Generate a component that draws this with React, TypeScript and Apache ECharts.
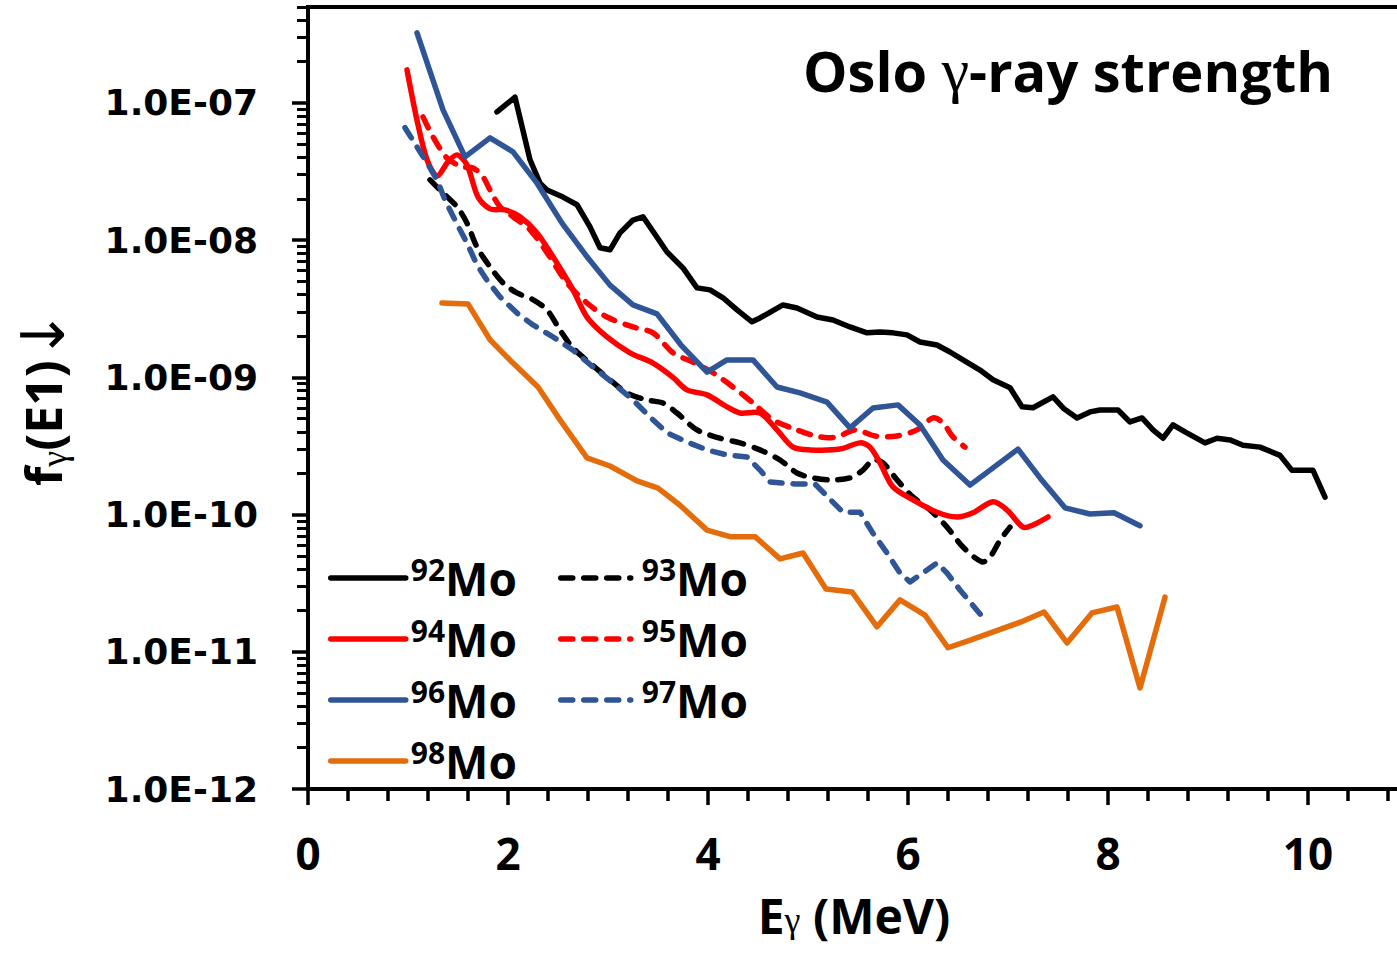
import React, { useEffect, useRef } from "react";
import * as echarts from "echarts";

// ---- data: [E_gamma (MeV), f (MeV^-3)] ----
const mo92: [number, number][] = [
  [1.89, 8.6e-8], [2.07, 1.1e-7], [2.22, 3.85e-8], [2.32, 2.6e-8], [2.39, 2.32e-8], [2.55, 2.06e-8],
  [2.69, 1.81e-8], [2.82, 1.25e-8], [2.92, 8.8e-9], [3.02, 8.5e-9], [3.12, 1.13e-8], [3.25, 1.4e-8],
  [3.35, 1.48e-8], [3.49, 1.05e-8], [3.59, 8.2e-9], [3.75, 6.27e-9], [3.89, 4.49e-9], [4.02, 4.34e-9],
  [4.15, 3.8e-9], [4.29, 3.1e-9], [4.44, 2.54e-9], [4.52, 2.71e-9], [4.75, 3.37e-9], [4.89, 3.2e-9],
  [5.09, 2.75e-9], [5.25, 2.62e-9], [5.42, 2.33e-9], [5.59, 2.11e-9], [5.72, 2.14e-9], [5.85, 2.11e-9],
  [5.99, 2.04e-9], [6.12, 1.81e-9], [6.29, 1.72e-9], [6.42, 1.53e-9], [6.55, 1.34e-9], [6.72, 1.13e-9],
  [6.85, 9.6e-10], [7.02, 8.4e-10], [7.14, 6.1e-10], [7.25, 6.0e-10], [7.45, 7.2e-10], [7.56, 5.9e-10],
  [7.69, 5.06e-10], [7.82, 5.6e-10], [7.92, 5.78e-10], [8.10, 5.78e-10], [8.22, 4.73e-10], [8.34, 5.06e-10],
  [8.45, 4.14e-10], [8.55, 3.6e-10], [8.65, 4.5e-10], [8.77, 4.0e-10], [8.97, 3.33e-10], [9.09, 3.6e-10],
  [9.22, 3.5e-10], [9.35, 3.2e-10], [9.52, 3.1e-10], [9.72, 2.7e-10], [9.84, 2.1e-10], [10.05, 2.1e-10],
  [10.17, 1.34e-10],
];

const mo93: [number, number][] = [
  [1.22, 2.75e-8], [1.32, 2.32e-8], [1.49, 1.75e-8], [1.59, 1.33e-8], [1.69, 8.9e-9], [1.82, 6.4e-9],
  [1.95, 4.88e-9], [2.09, 4.12e-9], [2.24, 3.72e-9], [2.39, 3.1e-9], [2.52, 2.21e-9], [2.64, 1.67e-9],
  [2.82, 1.27e-9], [3.02, 9.6e-10], [3.19, 7.7e-10], [3.39, 6.84e-10], [3.55, 6.5e-10], [3.69, 5.5e-10],
  [3.89, 4.14e-10], [4.12, 3.6e-10], [4.32, 3.33e-10], [4.52, 2.96e-10], [4.72, 2.5e-10], [4.89, 2.01e-10],
  [5.05, 1.85e-10], [5.22, 1.79e-10], [5.42, 1.85e-10], [5.55, 2.11e-10], [5.65, 2.5e-10], [5.75, 2.38e-10],
  [5.89, 1.79e-10], [6.05, 1.34e-10], [6.22, 1.08e-10], [6.39, 8.1e-11], [6.55, 5.8e-11], [6.74, 4.52e-11],
  [6.82, 4.9e-11], [6.92, 6.5e-11], [7.02, 8.1e-11],
];

const mo94: [number, number][] = [
  [0.99, 1.74e-7], [1.09, 7.5e-8], [1.19, 3.85e-8], [1.29, 2.94e-8], [1.40, 3.72e-8], [1.49, 4.18e-8],
  [1.59, 3.53e-8], [1.70, 2.06e-8], [1.82, 1.69e-8], [1.97, 1.66e-8], [2.12, 1.48e-8], [2.29, 1.13e-8],
  [2.49, 6.8e-9], [2.65, 4.34e-9], [2.79, 2.75e-9], [2.99, 1.97e-9], [3.22, 1.51e-9], [3.45, 1.27e-9],
  [3.65, 1.0e-9], [3.79, 8.1e-10], [3.99, 7.45e-10], [4.19, 6.1e-10], [4.32, 5.5e-10], [4.52, 5.5e-10],
  [4.69, 4.14e-10], [4.85, 3.1e-10], [5.02, 2.96e-10], [5.32, 3.0e-10], [5.52, 3.33e-10], [5.62, 3.1e-10],
  [5.72, 2.38e-10], [5.85, 1.59e-10], [6.05, 1.28e-10], [6.29, 1.04e-10], [6.49, 9.6e-11], [6.65, 1.03e-10],
  [6.85, 1.24e-10], [6.99, 1.08e-10], [7.15, 8.1e-11], [7.25, 8.4e-11], [7.40, 9.6e-11],
];

const mo95: [number, number][] = [
  [1.15, 7.9e-8], [1.25, 5.65e-8], [1.39, 3.97e-8], [1.54, 3.42e-8], [1.65, 3.36e-8], [1.75, 2.89e-8],
  [1.82, 2.32e-8], [1.92, 1.75e-8], [2.05, 1.48e-8], [2.22, 1.19e-8], [2.39, 8.1e-9], [2.59, 4.88e-9],
  [2.79, 3.48e-9], [2.99, 2.75e-9], [3.25, 2.33e-9], [3.45, 2.11e-9], [3.65, 1.51e-9], [3.85, 1.29e-9],
  [4.05, 1.08e-9], [4.25, 8.5e-10], [4.45, 6.5e-10], [4.65, 4.9e-10], [4.89, 4.14e-10], [5.12, 3.68e-10],
  [5.29, 3.68e-10], [5.47, 4.14e-10], [5.67, 3.74e-10], [5.89, 3.74e-10], [6.09, 4.14e-10], [6.25, 5.06e-10],
  [6.35, 4.65e-10], [6.45, 3.68e-10], [6.57, 3.1e-10],
];

const mo96: [number, number][] = [
  [1.09, 3.24e-7], [1.35, 8.9e-8], [1.57, 4.04e-8], [1.82, 5.56e-8], [2.05, 4.4e-8], [2.29, 2.6e-8],
  [2.54, 1.33e-8], [2.80, 7.4e-9], [3.02, 4.7e-9], [3.25, 3.37e-9], [3.49, 2.9e-9], [3.73, 1.72e-9],
  [3.99, 1.09e-9], [4.19, 1.34e-9], [4.45, 1.34e-9], [4.69, 8.5e-10], [4.92, 7.7e-10], [5.19, 6.6e-10],
  [5.42, 4.28e-10], [5.65, 5.98e-10], [5.90, 6.3e-10], [6.12, 4.5e-10], [6.35, 2.5e-10], [6.62, 1.64e-10],
  [6.85, 2.19e-10], [7.10, 3.0e-10], [7.32, 1.85e-10], [7.57, 1.12e-10], [7.82, 1.01e-10], [8.06, 1.03e-10],
  [8.32, 8.3e-11],
];

const mo97: [number, number][] = [
  [0.97, 6.6e-8], [1.09, 4.78e-8], [1.19, 3.66e-8], [1.29, 2.75e-8], [1.37, 1.96e-8], [1.47, 1.4e-8],
  [1.59, 9.5e-9], [1.69, 6.6e-9], [1.79, 5.1e-9], [1.92, 3.86e-9], [2.09, 2.94e-9], [2.25, 2.41e-9],
  [2.45, 1.97e-9], [2.65, 1.58e-9], [2.85, 1.19e-9], [3.05, 9.1e-10], [3.25, 6.84e-10], [3.42, 5.14e-10],
  [3.59, 3.94e-10], [3.79, 3.38e-10], [3.99, 2.96e-10], [4.19, 2.72e-10], [4.39, 2.63e-10], [4.52, 2.11e-10],
  [4.62, 1.73e-10], [4.87, 1.67e-10], [5.07, 1.67e-10], [5.35, 1.04e-10], [5.52, 1.04e-10], [5.65, 7.3e-11],
  [5.79, 5.25e-11], [5.92, 3.75e-11], [6.02, 3.23e-11], [6.19, 3.94e-11], [6.29, 4.44e-11], [6.39, 3.75e-11],
  [6.52, 2.82e-11], [6.77, 1.71e-11],
];

const mo98: [number, number][] = [
  [1.34, 3.48e-9], [1.60, 3.43e-9], [1.82, 1.88e-9], [2.05, 1.27e-9], [2.30, 8.5e-10], [2.52, 4.9e-10],
  [2.79, 2.59e-10], [3.02, 2.26e-10], [3.29, 1.76e-10], [3.50, 1.56e-10], [3.72, 1.17e-10], [3.99, 7.7e-11],
  [4.22, 6.9e-11], [4.47, 6.9e-11], [4.72, 4.75e-11], [4.95, 5.25e-11], [5.18, 2.87e-11], [5.44, 2.73e-11],
  [5.69, 1.52e-11], [5.92, 2.39e-11], [6.17, 1.85e-11], [6.40, 1.07e-11], [6.63, 1.22e-11], [7.13, 1.65e-11],
  [7.36, 1.95e-11], [7.59, 1.16e-11], [7.84, 1.92e-11], [8.09, 2.12e-11], [8.32, 5.45e-12], [8.57, 2.5e-11],
];

// ---- axes ----
const X_MIN = 0;
const X_MAX = 10.92;
const Y_MIN = 1e-12;
const Y_MAX = 5e-7;
const xMajorTicks = [0, 2, 4, 6, 8, 10];
const xMinorTicks = [
  0.4, 0.8, 1.2, 1.6, 2.4, 2.8, 3.2, 3.6, 4.4, 4.8, 5.2, 5.6,
  6.4, 6.8, 7.2, 7.6, 8.4, 8.8, 9.2, 9.6, 10.4, 10.8,
];
const yMajorTicks = [1e-12, 1e-11, 1e-10, 1e-9, 1e-8, 1e-7];
const yMinorMantissas = [2, 3, 4, 5, 6, 7, 8, 9];
const yMinorTicks = yMajorTicks
  .flatMap((d) => yMinorMantissas.map((m) => m * d))
  .filter((v) => v <= Y_MAX * 1.0001);

const FONT = "Open Sans";
const GREEK = "Liberation Serif";
const BLACK = "#000000";
const RED = "#ff0000";
const BLUE = "#2f5597";
const ORANGE = "#e46c0a";
const LINE_W = 5.5;
const DASH = [12, 11];

function makeLegendRich(gap: number) {
  return {
    sup: { fontFamily: FONT, fontWeight: "bold", fontSize: 30, lineHeight: 27, verticalAlign: "top", color: "#000", padding: [0, 0, 0, gap] },
    m: { fontFamily: FONT, fontWeight: "bold", fontSize: 46, lineHeight: 48, color: "#000" },
  };
}
const legendFormatter = (name: string) => `{sup|${name.slice(0, 2)}}{m|${name.slice(2)}}`;

// legend carrier: a line series (its legend icon is a line sample)
function legendSeries(name: string, color: string, dashed: boolean) {
  return {
    name,
    type: "line",
    data: [],
    symbol: "none",
    showSymbol: false,
    lineStyle: { color, width: LINE_W, type: dashed ? DASH : "solid", cap: "round" },
    itemStyle: { color },
    silent: true,
  };
}

// curve drawn through the axes' scales with api.coord
function curveSeries(name: string, data: [number, number][], color: string, dashed: boolean, smooth: number) {
  return {
    name,
    type: "custom",
    coordinateSystem: "cartesian2d",
    xAxisIndex: 0,
    yAxisIndex: 0,
    data: [data[0]],
    clip: true,
    silent: true,
    renderItem: (_params: any, api: any) => {
      const points = data.map((d) => api.coord(d));
      return {
        type: "polyline",
        shape: { points, smooth },
        style: {
          stroke: color,
          fill: "none",
          lineWidth: LINE_W,
          lineDash: dashed ? DASH : null,
          lineCap: "round",
          lineJoin: "round",
        },
        silent: true,
      };
    },
  };
}

const legendBase = {
  orient: "vertical",
  top: 549,
  itemHeight: 14,
  itemGap: 14,
  selectedMode: false,
  formatter: legendFormatter,
  itemStyle: { opacity: 0 },
  lineStyle: { width: LINE_W, type: "inherit", cap: "round" },
};

export default function App() {
  const ref = useRef<HTMLDivElement>(null);

  useEffect(() => {
    if (!ref.current) return;
    const chart = echarts.init(ref.current, undefined, { renderer: "svg" });
    const yLabel = (v: number) => {
      const l = Math.log10(v);
      if (Math.abs(l - Math.round(l)) > 0.01) return "";
      const e = Math.round(-l);
      return `1.0E-${String(e).padStart(2, "0")}`;
    };
    const option: any = {
      animation: false,
      backgroundColor: "#ffffff",
      title: {
        text: "{t|Oslo }{g|γ}{t|-ray strength}",
        left: 798,
        top: 33,
        textStyle: {
          rich: {
            t: { fontFamily: FONT, fontWeight: "bold", fontSize: 56, lineHeight: 64, color: "#000" },
            g: { fontFamily: GREEK, fontWeight: "normal", fontSize: 62, lineHeight: 64, color: "#000" },
          },
        },
      },
      legend: [
        {
          ...legendBase,
          data: ["92Mo", "94Mo", "96Mo", "98Mo"],
          left: 323,
          itemWidth: 75,
          textStyle: { rich: makeLegendRich(0) },
        },
        {
          ...legendBase,
          data: ["93Mo", "95Mo", "97Mo"],
          left: 553,
          itemWidth: 70,
          textStyle: { rich: makeLegendRich(6) },
        },
      ],
      grid: {
        left: 308,
        top: 7,
        width: 1092,
        height: 782,
        show: true,
        borderColor: "#000",
        borderWidth: 4,
        backgroundColor: "transparent",
        containLabel: false,
        outerBoundsMode: "none",
      },
      xAxis: [
        {
          type: "value",
          min: X_MIN,
          max: X_MAX,
          position: "bottom",
          name: "{m|E}{s|γ}{m| (MeV)}",
          nameLocation: "middle",
          nameGap: 103,
          nameTextStyle: {
            rich: {
              m: { fontFamily: FONT, fontWeight: "bold", fontSize: 48, lineHeight: 46, color: "#000" },
              s: { fontFamily: GREEK, fontWeight: "normal", fontSize: 36, lineHeight: 28, verticalAlign: "bottom", color: "#000" },
            },
          },
          axisLine: { show: true, onZero: false, lineStyle: { color: "#000", width: 4 } },
          axisTick: { show: true, customValues: xMajorTicks, length: 16, lineStyle: { color: "#000", width: 3.5 } },
          axisLabel: {
            show: true,
            customValues: xMajorTicks,
            margin: 43,
            fontFamily: FONT,
            fontWeight: "bold",
            fontSize: 44,
            lineHeight: 42,
            color: "#000",
          },
          splitLine: { show: false },
        },
        {
          type: "value",
          min: X_MIN,
          max: X_MAX,
          position: "bottom",
          axisLine: { show: false, onZero: false },
          axisTick: { show: true, customValues: xMinorTicks, length: 12, lineStyle: { color: "#000", width: 3.5 } },
          axisLabel: { show: false },
          splitLine: { show: false },
        },
      ],
      yAxis: [
        {
          type: "log",
          logBase: 10,
          min: Y_MIN,
          max: Y_MAX,
          position: "left",
          name: "{m|f}{s|γ}{m|(E1)}{a|↓}",
          nameLocation: "middle",
          nameRotate: 90,
          nameGap: 236,
          nameTextStyle: {
            rich: {
              m: { fontFamily: FONT, fontWeight: "bold", fontSize: 50, lineHeight: 58, color: "#000" },
              s: { fontFamily: GREEK, fontWeight: "normal", fontSize: 36, lineHeight: 42, verticalAlign: "bottom", color: "#000" },
              a: { fontFamily: "DejaVu Sans", fontWeight: "normal", fontSize: 60, lineHeight: 58, color: "#000" },
            },
          },
          axisLine: { show: true, onZero: false, lineStyle: { color: "#000", width: 4 } },
          axisTick: { show: true, customValues: yMajorTicks, length: 16, lineStyle: { color: "#000", width: 3.5 } },
          axisLabel: {
            show: true,
            customValues: yMajorTicks,
            formatter: yLabel,
            margin: 50,
            fontFamily: "DejaVu Sans",
            fontWeight: "bold",
            fontSize: 36,
            color: "#000",
          },
          splitLine: { show: false },
          minorTick: { show: false },
        },
        {
          type: "log",
          logBase: 10,
          min: Y_MIN,
          max: Y_MAX,
          position: "left",
          axisLine: { show: false, onZero: false },
          axisTick: { show: true, customValues: yMinorTicks, length: 11, lineStyle: { color: "#000", width: 3 } },
          axisLabel: { show: false },
          splitLine: { show: false },
        },
      ],
      series: [
        legendSeries("92Mo", BLACK, false),
        legendSeries("93Mo", BLACK, true),
        legendSeries("94Mo", RED, false),
        legendSeries("95Mo", RED, true),
        legendSeries("96Mo", BLUE, false),
        legendSeries("97Mo", BLUE, true),
        legendSeries("98Mo", ORANGE, false),
        curveSeries("92Mo", mo92, BLACK, false, 0),
        curveSeries("93Mo", mo93, BLACK, true, 0.3),
        curveSeries("94Mo", mo94, RED, false, 0.3),
        curveSeries("95Mo", mo95, RED, true, 0.3),
        curveSeries("96Mo", mo96, BLUE, false, 0),
        curveSeries("97Mo", mo97, BLUE, true, 0),
        curveSeries("98Mo", mo98, ORANGE, false, 0),
      ],
    };
    chart.setOption(option);
    return () => chart.dispose();
  }, []);

  return (
    <div
      ref={ref}
      style={{ position: "fixed", left: 0, top: 0, width: 1397, height: 958, background: "#ffffff" }}
    />
  );
}
